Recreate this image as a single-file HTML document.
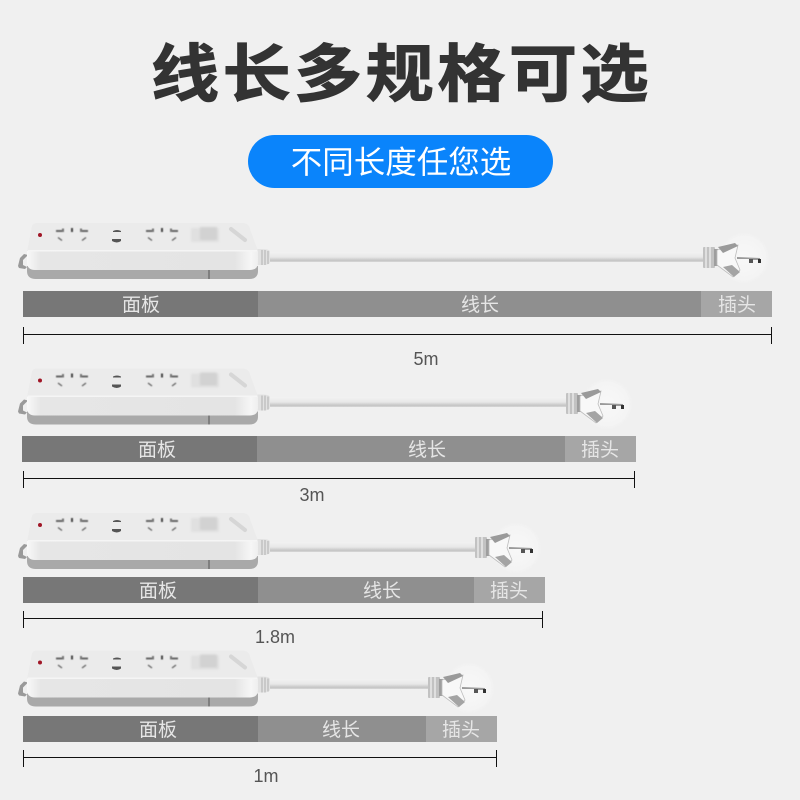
<!DOCTYPE html>
<html lang="zh"><head><meta charset="utf-8"><title>线长多规格可选</title>
<style>
html,body{margin:0;padding:0;background:#f0f0f0}
svg{display:block}
text{font-family:"Liberation Sans","Noto Sans CJK SC",sans-serif}
.l{font-size:19px;fill:#e6e6e6;text-anchor:middle}
.m{font-size:18px;fill:#555;text-anchor:middle}
</style></head><body>
<svg xmlns="http://www.w3.org/2000/svg" width="800" height="800" viewBox="0 0 800 800">
<defs>
<linearGradient id="cab" x1="0" y1="0" x2="0" y2="1"><stop offset="0" stop-color="#f2f2f2"/><stop offset=".5" stop-color="#e8e8e8"/><stop offset=".85" stop-color="#c4c4c4"/><stop offset="1" stop-color="#d8d8d8"/></linearGradient>
<linearGradient id="front" x1="0" y1="0" x2="1" y2="0"><stop offset="0" stop-color="#f8f8f8"/><stop offset=".06" stop-color="#e6e6e6"/><stop offset=".9" stop-color="#e4e4e4"/><stop offset=".97" stop-color="#f6f6f6"/><stop offset="1" stop-color="#eee"/></linearGradient>
<radialGradient id="disc"><stop offset="0" stop-color="#f8f8f8"/><stop offset=".8" stop-color="#f4f4f4"/><stop offset="1" stop-color="#f0f0f0" stop-opacity="0"/></radialGradient>
<filter id="b" x="-20%" y="-20%" width="140%" height="140%"><feGaussianBlur stdDeviation=".45"/></filter>
<filter id="b2" x="-20%" y="-20%" width="140%" height="140%"><feGaussianBlur stdDeviation="1"/></filter>
<filter id="b3" x="-5%" y="-5%" width="110%" height="110%"><feGaussianBlur stdDeviation=".35"/></filter>
<g id="sock" filter="url(#b)">
<rect x="0" y="0" width="8" height="2" fill="#666"/><rect x="6" y="-1.500" width="2" height="3.500" fill="#777"/>
<rect x="15" y="-2" width="2" height="4" fill="#444"/>
<rect x="24" y="0" width="8" height="2" fill="#666"/><rect x="24" y="-1.500" width="2" height="3.500" fill="#777"/>
<path d="M2 7.500 6 10.500M26 10.500 30 7.500" stroke="#666" stroke-width="1.400"/>
</g>
<g id="strip" filter="url(#b3)">
<path d="M18 266l2-8 4-4 4 1-5 5 0 5 4 2-2 2-6-1z" fill="#9a9a9a"/>
<path d="M256 249h6q8 0 8 3v10q0 3-8 3h-6z" fill="#e2e2e2"/>
<path d="M262 250v15M265 250v15M268 251v13" stroke="#b0b0b0" stroke-width="1"/>
<path d="M27 266h231v5q0 8-9 8H36q-9 0-9-8z" fill="#a9a9a9"/>
<path d="M27 251l5-25q1-3 5-3h205q5 0 7 3l9 25v11q0 8-8 8H35q-8 0-8-8z" fill="url(#front)"/>
<path d="M27 251l5-25q1-3 5-3h205q5 0 7 3l9 25z" fill="#ebebeb"/>
<rect x="28" y="250" width="229" height="1.500" fill="#f5f5f5"/>
<path d="M209 270v9" stroke="#555" stroke-width="1"/>
<circle cx="40" cy="235" r="2" fill="#a01828"/>
<use href="#sock" x="56" y="230"/>
<use href="#sock" x="146" y="230"/>
<path d="M113 231q4-2 8 0v1h-8zM112 239h9v2q-4 3-9 0z" fill="#555"/>
<g filter="url(#b2)"><rect x="191" y="228" width="28" height="14" rx="1" fill="#e0e0e0"/><rect x="200" y="227" width="17" height="13" fill="#d2d2d2"/></g>
<path d="M231 229l14 11" stroke="#d6d6d6" stroke-width="4" stroke-linecap="round"/>
</g>
<g id="plug" filter="url(#b3)">
<circle cx="1" cy="-1" r="27" fill="url(#disc)"/>
<rect x="-40" y="-12" width="12" height="21" rx="1" fill="#c2c2c2"/>
<path d="M-37-12v21M-33-12v21" stroke="#efefef" stroke-width="1.300"/>
<path d="M-29-10h4v17h-4z" fill="#9e9e9e"/>
<path d="M-26-9-5-14-8-1-3 11-10 18-26 6z" fill="#f8f8f8" stroke="#bdbdbd" stroke-width=".8"/>
<path d="M-25-12-8-16-5-13-20-6z" fill="#9a9a9a"/>
<path d="M-20 8-11 6-3 13-9 18z" fill="#a4a4a4"/>
<path d="M-6-2 17-1V1H6V0H-6z" fill="#9a9a9a"/>
<rect x="6" y="0" width="4" height="4" fill="#555"/><rect x="15" y="0" width="3" height="4" fill="#333"/>
</g>
</defs>
<rect width="800" height="800" fill="#f0f0f0"/>

<text transform="translate(151,96) scale(1,.92)" font-size="68" font-weight="700" fill="#333" stroke="#333" stroke-width="1.200" letter-spacing="3.600">线长多规格可选</text>
<rect x="248" y="135" width="305" height="53" rx="26.500" fill="#0a84fb"/>
<text x="401" y="173" font-size="31.500" fill="#fff" text-anchor="middle">不同长度任您选</text>

<!-- Row 1 -->
<rect x="270" y="252" width="435" height="10" fill="url(#cab)"/>
<use href="#strip"/>
<use href="#plug" x="743" y="259"/>
<rect x="23" y="291" width="235" height="26" fill="#777"/><rect x="258" y="291" width="443" height="26" fill="#8f8f8f"/><rect x="701" y="291" width="71" height="26" fill="#a6a6a6"/>
<text class="l" x="141" y="311">面板</text><text class="l" x="480" y="311">线长</text><text class="l" x="737" y="311">插头</text>
<path d="M23.500 327v17M771.500 327v17M23.500 334.500h748" stroke="#111" stroke-width="1" fill="none"/>
<text class="m" x="426" y="365">5m</text>

<!-- Row 2 -->
<rect x="270" y="397" width="300" height="10" fill="url(#cab)"/>
<use href="#strip" y="145.500"/>
<use href="#plug" x="606" y="405"/>
<rect x="22" y="436" width="235" height="26" fill="#777"/><rect x="257" y="436" width="308" height="26" fill="#8f8f8f"/><rect x="565" y="436" width="71" height="26" fill="#a6a6a6"/>
<text class="l" x="157" y="456">面板</text><text class="l" x="427" y="456">线长</text><text class="l" x="600" y="456">插头</text>
<path d="M23.500 471v17M634.500 471v17M23.500 478.500h611" stroke="#111" stroke-width="1" fill="none"/>
<text class="m" x="312" y="501">3m</text>

<!-- Row 3 -->
<rect x="270" y="542" width="208" height="10" fill="url(#cab)"/>
<use href="#strip" y="290"/>
<use href="#plug" x="515" y="549"/>
<rect x="23" y="577" width="235" height="26" fill="#777"/><rect x="258" y="577" width="216" height="26" fill="#8f8f8f"/><rect x="474" y="577" width="71" height="26" fill="#a6a6a6"/>
<text class="l" x="158" y="597">面板</text><text class="l" x="382" y="597">线长</text><text class="l" x="509" y="597">插头</text>
<path d="M23.500 611v17M542.500 611v17M23.500 618.500h519" stroke="#111" stroke-width="1" fill="none"/>
<text class="m" x="275" y="643">1.8m</text>

<!-- Row 4 -->
<rect x="270" y="679" width="160" height="10" fill="url(#cab)"/>
<use href="#strip" y="427.500"/>
<use href="#plug" x="468" y="689"/>
<rect x="23" y="716" width="235" height="26" fill="#777"/><rect x="258" y="716" width="168" height="26" fill="#8f8f8f"/><rect x="426" y="716" width="71" height="26" fill="#a6a6a6"/>
<text class="l" x="158" y="736">面板</text><text class="l" x="341" y="736">线长</text><text class="l" x="461" y="736">插头</text>
<path d="M23.500 750v17M496.500 750v17M23.500 757.500h473" stroke="#111" stroke-width="1" fill="none"/>
<text class="m" x="266" y="782">1m</text>
</svg>
</body></html>
